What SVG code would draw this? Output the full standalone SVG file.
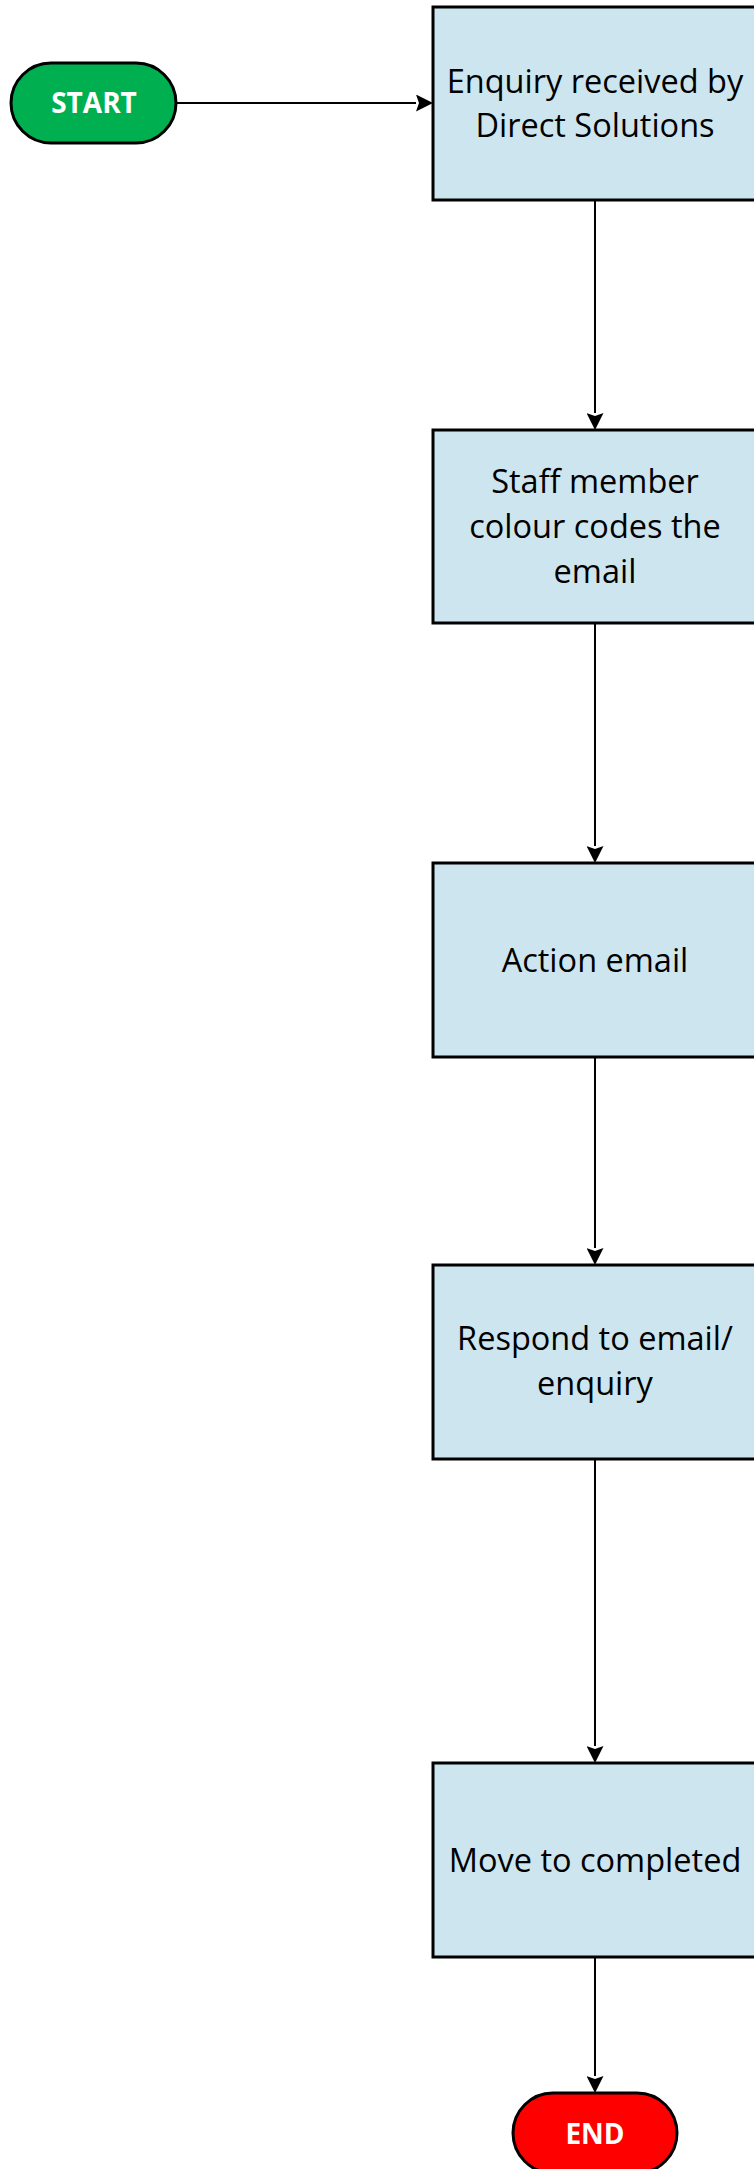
<svg xmlns="http://www.w3.org/2000/svg" width="754" height="2169" viewBox="0 0 754 2169">
<style>
.box{fill:#cde5ef;stroke:#000;stroke-width:3}
.term{stroke:#000;stroke-width:3}
.lbl{font-family:"Open Sans","Liberation Sans",sans-serif;font-size:32.5px;fill:#000;text-anchor:middle}
.tl{font-family:"Open Sans","Liberation Sans",sans-serif;font-size:28px;font-weight:bold;fill:#fff;text-anchor:middle}
.conn{stroke:#000;stroke-width:2;fill:none;marker-end:url(#ah)}
</style>
<defs>
<marker id="ah" markerUnits="userSpaceOnUse" viewBox="0 0 17 17" refX="0" refY="8.5" markerWidth="17" markerHeight="17" orient="auto">
<path d="M0,0 L17,8.5 L0,17 L3,8.5 Z" fill="#000"/>
</marker>
</defs>
<rect width="754" height="2169" fill="#fff"/>
<g id="connectors">
<line class="conn" x1="176" y1="103" x2="416" y2="103"/>
<line class="conn" x1="595" y1="200" x2="595" y2="413"/>
<line class="conn" x1="595" y1="623" x2="595" y2="846"/>
<line class="conn" x1="595" y1="1057" x2="595" y2="1248"/>
<line class="conn" x1="595" y1="1459" x2="595" y2="1746"/>
<line class="conn" x1="595" y1="1957" x2="595" y2="2076"/>
</g>
<g id="start">
<rect class="term" x="11" y="63" width="165" height="80" rx="40" fill="#00b050"/>
<text class="tl" x="94" y="113">START</text>
</g>
<g id="enquiry">
<rect class="box" x="433" y="7" width="323" height="193"/>
<text class="lbl" x="595" y="93">Enquiry received by</text>
<text class="lbl" x="595" y="137">Direct Solutions</text>
</g>
<g id="colour">
<rect class="box" x="433" y="430" width="323" height="193"/>
<text class="lbl" x="595" y="493">Staff member</text>
<text class="lbl" x="595" y="538">colour codes the</text>
<text class="lbl" x="595" y="583">email</text>
</g>
<g id="action">
<rect class="box" x="433" y="863" width="323" height="194"/>
<text class="lbl" x="595" y="972">Action email</text>
</g>
<g id="respond">
<rect class="box" x="433" y="1265" width="323" height="194"/>
<text class="lbl" x="595" y="1350">Respond to email/</text>
<text class="lbl" x="595" y="1395">enquiry</text>
</g>
<g id="move">
<rect class="box" x="433" y="1763" width="323" height="194"/>
<text class="lbl" x="595" y="1872">Move to completed</text>
</g>
<g id="end">
<rect class="term" x="513" y="2093" width="164" height="80" rx="40" fill="#ff0000"/>
<text class="tl" x="595" y="2144">END</text>
</g>
</svg>
